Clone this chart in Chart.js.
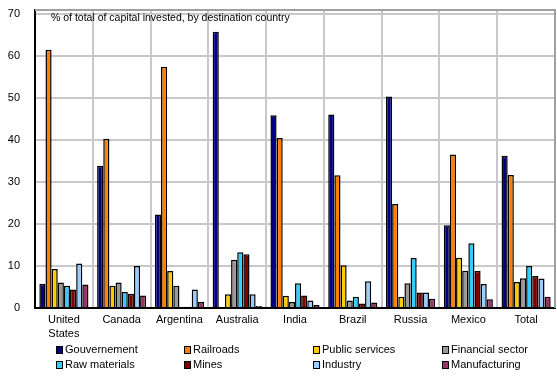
<!DOCTYPE html>
<html>
<head>
<meta charset="utf-8">
<script src="https://cdn.jsdelivr.net/npm/chart.js@4/dist/chart.umd.min.js"></script>
<style>
  body { margin: 0; background: #fff; }
  #wrap { position: relative; width: 557px; height: 378px; }
  #legend { position: absolute; left: 0; top: 0; width: 557px; height: 378px; pointer-events: none;
            font-family: "Liberation Sans", Arial, sans-serif; font-size: 11px; color: #000; }
  .item { position: absolute; white-space: nowrap; line-height: 13px; }
  .box { display: inline-block; width: 5px; height: 6px; border: 1px solid #000; margin-right: 2px; vertical-align: -1px; }
</style>
</head>
<body>
<div id="wrap">
  <canvas id="chart_capital" width="557" height="378"></canvas>
  <div id="legend"></div>
</div>
<script>
// destinations and invested share per sector (%)
var categories = [['United', 'States'], 'Canada', 'Argentina', 'Australia', 'India', 'Brazil', 'Russia', 'Mexico', 'Total'];
var gouvernement    = [5.8, 33.9, 22.3, 65.8, 45.9, 46.1, 50.4, 19.7, 36.3];
var railroads       = [61.5, 40.3, 57.5, 0, 40.5, 31.6, 24.8, 36.6, 31.7];
var publicServices  = [9.3, 5.3, 8.8, 3.3, 2.9, 10.2, 2.7, 12.0, 6.2];
var financialSector = [6.1, 6.1, 5.3, 11.5, 1.4, 1.8, 5.9, 8.9, 7.1];
var rawMaterials    = [5.3, 3.8, 0.3, 13.3, 5.9, 2.7, 11.9, 15.4, 10.0];
var mines           = [4.4, 3.4, 0.3, 12.8, 3.0, 1.1, 3.7, 8.8, 7.6];
var industry        = [10.6, 10.0, 4.4, 3.3, 1.8, 6.4, 3.7, 5.7, 7.0];
var manufacturing   = [5.6, 3.0, 1.4, 0.5, 0.7, 1.3, 2.2, 2.1, 2.7];
var yTicks = [0, 10, 20, 30, 40, 50, 60, 70];

var FONT = '"Liberation Sans", Arial, sans-serif';

var series = [
  { label: 'Gouvernement',     data: gouvernement,    color: '#000080' },
  { label: 'Railroads',        data: railroads,       color: '#ff8000' },
  { label: 'Public services',  data: publicServices,  color: '#ffcc00' },
  { label: 'Financial sector', data: financialSector, color: '#999999' },
  { label: 'Raw materials',    data: rawMaterials,    color: '#33ccff' },
  { label: 'Mines',            data: mines,           color: '#800000' },
  { label: 'Industry',         data: industry,        color: '#99ccff' },
  { label: 'Manufacturing',    data: manufacturing,   color: '#993366' }
];

// frame on top / right plus the caption inside the plot
var frame = {
  id: 'frame',
  afterDraw: function (chart) {
    var c = chart.ctx, a = chart.chartArea;
    c.save();
    c.strokeStyle = '#a0a0a0';
    c.lineWidth = 2;
    c.beginPath();
    c.moveTo(a.left, a.top);
    c.lineTo(a.right, a.top);
    c.lineTo(a.right, a.bottom);
    c.stroke();
    c.fillStyle = '#000';
    c.font = '10.5px ' + FONT;
    c.textBaseline = 'middle';
    c.fillText('% of total of capital invested, by destination country', a.left + 16, a.top + 8);
    c.restore();
  }
};

var ctx = document.getElementById('chart_capital').getContext('2d');
var chart = new Chart(ctx, {
  type: 'bar',
  data: {
    labels: categories,
    datasets: series.map(function (s) {
      return {
        label: s.label,
        data: s.data,
        backgroundColor: s.color,
        borderColor: '#000',
        borderWidth: 1.5,
        borderSkipped: 'bottom',
        barPercentage: 1,
        categoryPercentage: 0.85
      };
    })
  },
  options: {
    responsive: false,
    animation: false,
    layout: { padding: { top: 10, right: 2, bottom: 30, left: 0 } },
    plugins: { legend: { display: false }, tooltip: { enabled: false } },
    scales: {
      x: {
        grid: { color: '#c8c8c8', lineWidth: 2, drawTicks: false, offset: true },
        border: { color: '#000', width: 2 },
        ticks: { color: '#000', font: { family: FONT, size: 11, lineHeight: 1.27 }, padding: 5, maxRotation: 0, autoSkip: false },
        afterFit: function (s) { s.height = 40; s.paddingLeft = 0; s.paddingRight = 0; }
      },
      y: {
        min: 0,
        max: 71,
        afterBuildTicks: function (s) { s.ticks = yTicks.map(function (v) { return { value: v }; }); },
        grid: { color: '#c8c8c8', lineWidth: 2, drawTicks: false },
        border: { color: '#000', width: 2 },
        ticks: { color: '#000', font: { family: FONT, size: 11 }, padding: 15 },
        afterFit: function (s) { s.width = 35; s.paddingTop = 0; s.paddingBottom = 0; }
      }
    }
  },
  plugins: [frame]
});

// legend: two rows of four fixed columns
var legendEl = document.getElementById('legend');
var colX = [56, 184, 313, 442];
var rowY = [343, 358];
series.forEach(function (s, i) {
  var d = document.createElement('div');
  d.className = 'item';
  d.style.left = colX[i % 4] + 'px';
  d.style.top = rowY[Math.floor(i / 4)] + 'px';
  d.innerHTML = '<span class="box" style="background:' + s.color + '"></span>' + s.label;
  legendEl.appendChild(d);
});
</script>
</body>
</html>
